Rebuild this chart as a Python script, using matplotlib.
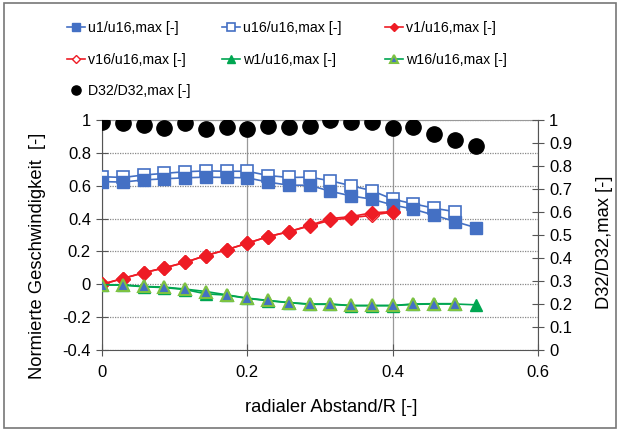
import matplotlib.pyplot as plt
import numpy as np
from matplotlib.patches import Rectangle

plt.rcParams['font.family'] = ['Liberation Sans', 'DejaVu Sans']

# ----- Data -----
r = np.arange(19) * 0.2 / 7  # radialer Abstand/R

u1 = [0.625, 0.622, 0.635, 0.642, 0.648, 0.652, 0.650, 0.648, 0.622, 0.603, 0.603,
      0.566, 0.538, 0.518, 0.483, 0.457, 0.421, 0.382, 0.345]
u16 = [0.655, 0.650, 0.665, 0.675, 0.685, 0.690, 0.688, 0.688, 0.662, 0.650, 0.652,
       0.630, 0.600, 0.570, 0.518, 0.490, 0.463, 0.442]
v1 = [0.0, 0.035, 0.07, 0.10, 0.133, 0.175, 0.21, 0.25, 0.29, 0.32, 0.358,
      0.40, 0.412, 0.435, 0.442]
v16 = [0.0, 0.035, 0.07, 0.10, 0.133, 0.175, 0.21, 0.25, 0.29, 0.32, 0.355,
       0.39, 0.405, 0.42, 0.44]
w1 = [-0.005, -0.005, -0.015, -0.02, -0.032, -0.058, -0.066, -0.086, -0.10, -0.112,
      -0.122, -0.122, -0.13, -0.13, -0.13, -0.122, -0.12, -0.12, -0.125]
w16 = [-0.003, -0.003, -0.013, -0.017, -0.029, -0.044, -0.064, -0.084, -0.098, -0.111,
       -0.12, -0.12, -0.129, -0.129, -0.129, -0.12, -0.118, -0.118]
d32 = [0.99, 0.985, 0.98, 0.965, 0.985, 0.96, 0.97, 0.96, 0.975, 0.97, 0.975,
       1.0, 0.99, 0.99, 0.965, 0.97, 0.94, 0.915, 0.885]

blue = '#4470C4'
red = '#EE1C25'
green = '#00A651'

fig = plt.figure(figsize=(6.2, 4.3), dpi=100)
ax = fig.add_axes([0.1645, 0.186, 0.703, 0.535])
ax2 = ax.twinx()

# ----- Left axis series -----
h_u1, = ax.plot(r[:len(u1)], u1, color=blue, marker='s', ms=8.5, mfc=blue, mec=blue,
                lw=1.2, label='u1/u16,max [-]', zorder=4)
h_u16, = ax.plot(r[:len(u16)], u16, color=blue, marker='s', ms=8.5, mfc='white', mec=blue,
                 mew=1.2, lw=1.2, label='u16/u16,max [-]', zorder=3)
h_v16, = ax.plot(r[:len(v16)], v16, color=red, marker='D', ms=7, mfc='white', mec=red,
                 lw=1.2, label='v16/u16,max [-]', zorder=3)
h_v1, = ax.plot(r[:len(v1)], v1, color=red, marker='D', ms=7, mfc=red, mec=red,
                lw=1.2, label='v1/u16,max [-]', zorder=4)
h_w1, = ax.plot(r[:len(w1)], w1, color=green, marker='^', ms=9, mfc=green, mec=green,
                lw=1.2, label='w1/u16,max [-]', zorder=3)
h_w16, = ax.plot(r[:len(w16)], w16, color=green, marker='^', ms=9, mfc=blue, mec='#7DC242',
                 mew=1.5, lw=1.2, label='w16/u16,max [-]', zorder=4)

ax.set_xlim(0, 0.6)
ax.set_ylim(-0.4, 1.0)
ax.set_xticks([0, 0.2, 0.4, 0.6])
ax.set_xticklabels(['0', '0.2', '0.4', '0.6'])
ax.set_yticks(np.arange(-0.4, 1.01, 0.2))
ax.set_yticklabels(['-0.4', '-0.2', '0', '0.2', '0.4', '0.6', '0.8', '1'])
ax.yaxis.grid(True, color='#888888', linestyle=(0, (1, 1)), lw=0.9)
ax.xaxis.grid(True, color='#999999', linestyle='-', lw=0.9)
ax.tick_params(direction='inout', length=8, width=0.8, color='#555555', labelsize=12, pad=4)
ax.tick_params(axis='x', pad=7)
for s in ['left', 'bottom', 'right']:
    ax.spines[s].set_color('#555555')
ax.spines['top'].set_color('#999999')
ax.set_xlabel('radialer Abstand/R [-]', fontsize=13.2)
ax.set_ylabel('Normierte Geschwindigkeit  [-]', fontsize=13.2)
ax.xaxis.set_label_coords(0.525, -0.215)
ax.yaxis.set_label_coords(-0.128, 0.41)

# ----- Right axis -----
h_d, = ax2.plot(r, d32, ls='none', marker='o', ms=11, color='black', label='D32/D32,max [-]')
ax2.set_ylim(0, 1.0)
ax2.set_yticks(np.arange(0, 1.01, 0.1))
ax2.set_yticklabels(['0', '0.1', '0.2', '0.3', '0.4', '0.5', '0.6', '0.7', '0.8', '0.9', '1'])
ax2.tick_params(direction='inout', length=8, width=0.8, color='#555555', labelsize=12, pad=4)
for s in ax2.spines.values():
    s.set_visible(False)
ax2.set_ylabel('D32/D32,max [-]', fontsize=13.2)
ax2.yaxis.set_label_coords(1.133, 0.47)

# ----- Legend: one block per column -----
cols = [([h_u1, h_v16, h_d], 67), ([h_u16, h_w1], 222), ([h_v1, h_w16], 385)]
for hs, xpix in cols:
    fig.legend(handles=hs, labels=[h.get_label() for h in hs],
               loc='upper left', bbox_to_anchor=(xpix / 620, 1 - 21 / 430), frameon=False,
               fontsize=10.2, markerscale=0.6, handlelength=1.3, handletextpad=0.2,
               labelspacing=1.25, borderpad=0, borderaxespad=0)

# ----- Figure border -----
fig.patches.append(Rectangle((0.006, 0.004), 0.988, 0.99, transform=fig.transFigure,
                             fill=False, edgecolor='#777777', lw=1.2))

plt.savefig('out.png', dpi=100)
